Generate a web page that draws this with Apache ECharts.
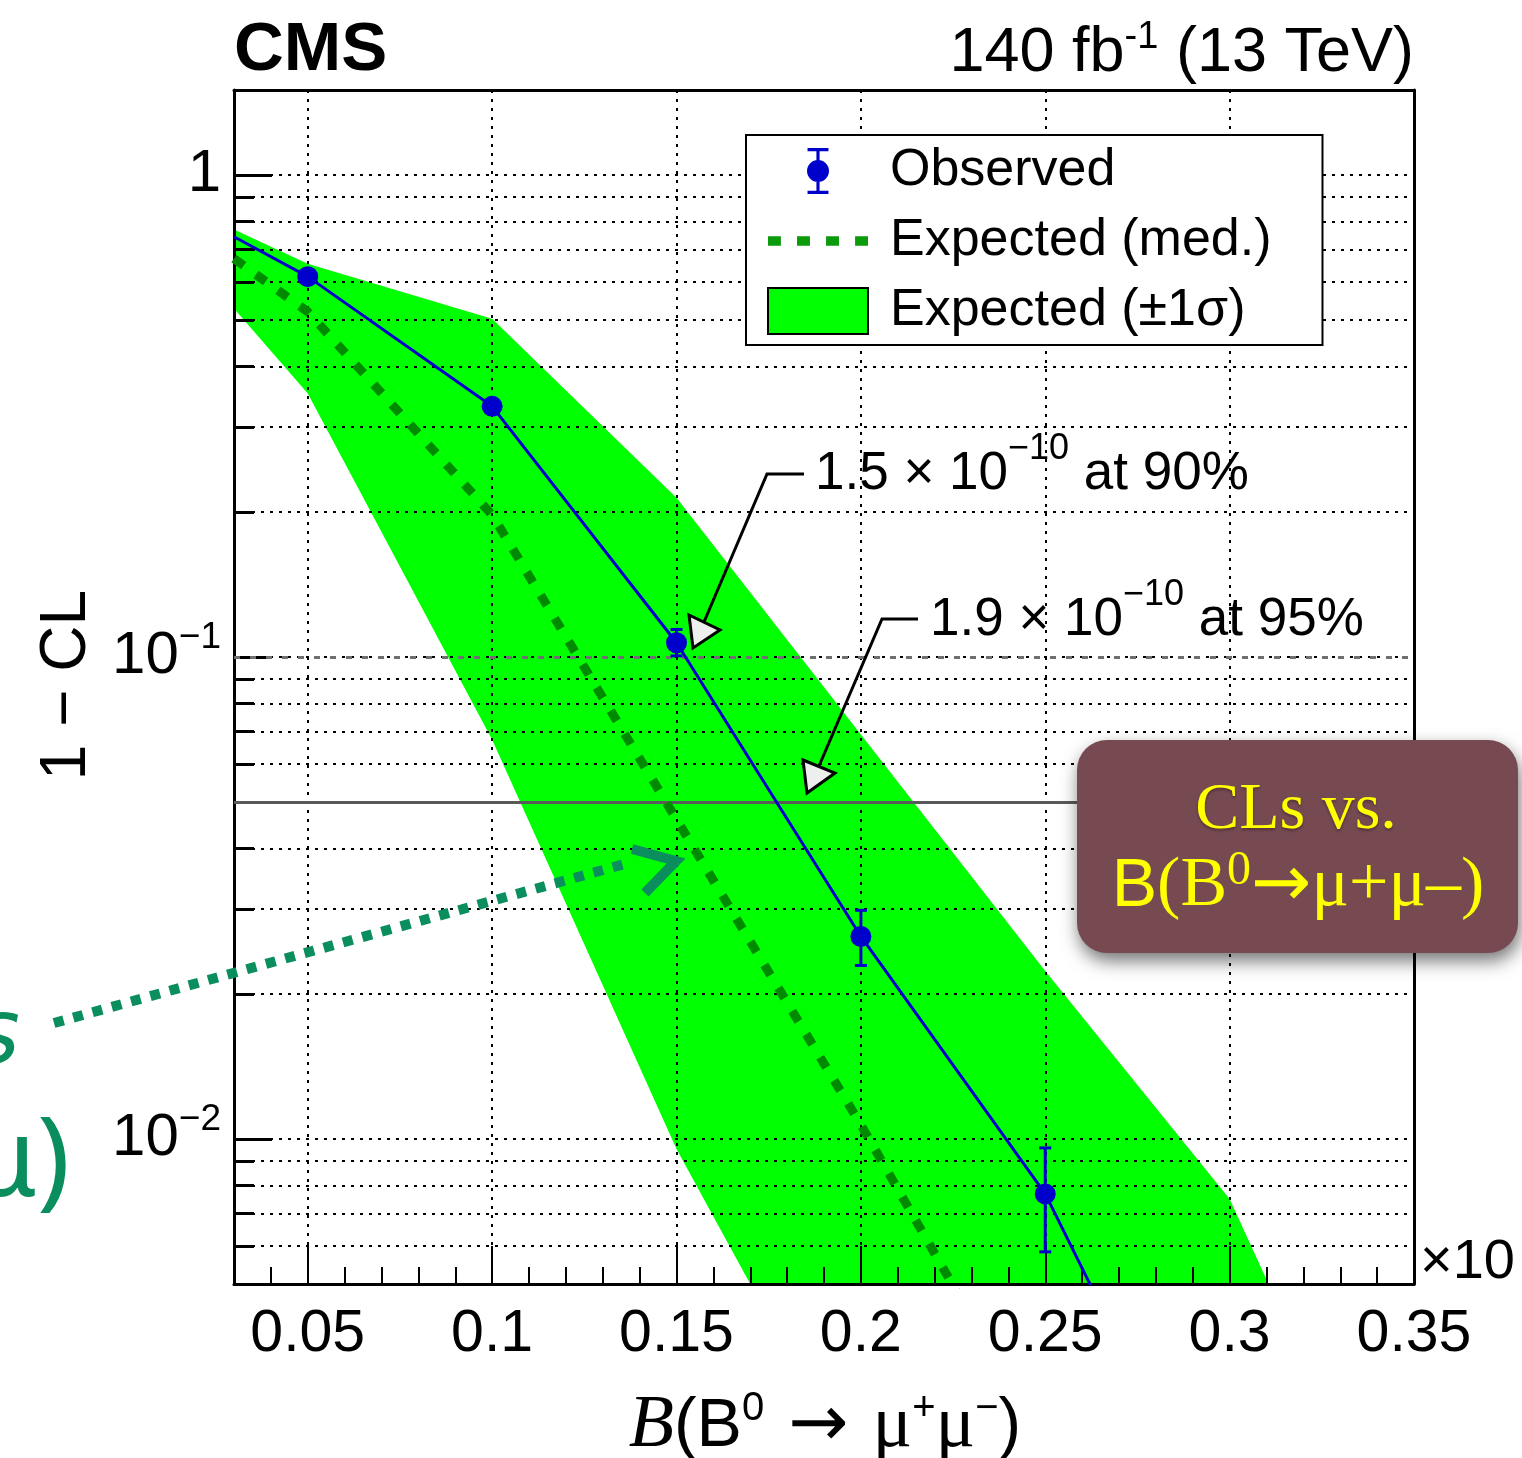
<!DOCTYPE html>
<html>
<head>
<meta charset="utf-8">
<script src="https://cdn.jsdelivr.net/npm/echarts@6/dist/echarts.min.js"></script>
<style>
  html, body { margin: 0; padding: 0; background: #fff; }
  #chart { width: 1522px; height: 1458px; }
</style>
</head>
<body>
<div id="chart"></div>
<script>
// observed 1-CL points with error bars
const obsX = [0.05, 0.1, 0.15, 0.2, 0.25];
const obsY = [0.615, 0.331, 0.107, 0.0263, 0.00769];
const errX = [0.15, 0.2, 0.25];
const errLow = [0.1005, 0.0229, 0.00583];
const errHigh = [0.114, 0.0298, 0.00958];

// observed curve (joins the points, runs to the frame)
const obsLineX = [0.03, 0.05, 0.1, 0.15, 0.2, 0.25, 0.3];
const obsLineY = [0.744, 0.615, 0.331, 0.107, 0.0263, 0.00769, 0.0013];

// expected median
const medX = [0.03, 0.05, 0.1, 0.15, 0.2, 0.25];
const medY = [0.67, 0.52, 0.197, 0.046, 0.0107, 0.0023];

// expected +-1 sigma band
const bandX = [0.03, 0.05, 0.1, 0.15, 0.2, 0.25, 0.3, 0.35];
const bandUp = [0.77, 0.654, 0.503, 0.214, 0.069, 0.0223, 0.0075, 0.0011];
const bandLow = [0.528, 0.352, 0.0673, 0.00953, 0.0019, 0.0004, 0.0001, 0.00003];

// axis ticks
const xMajorTicks = [0.05, 0.1, 0.15, 0.2, 0.25, 0.3, 0.35];
const xMajorLabels = ['0.05', '0.1', '0.15', '0.2', '0.25', '0.3', '0.35'];
const xMinorTicks = [0.03, 0.04, 0.06, 0.07, 0.08, 0.09, 0.11, 0.12, 0.13, 0.14,
  0.16, 0.17, 0.18, 0.19, 0.21, 0.22, 0.23, 0.24, 0.26, 0.27, 0.28, 0.29,
  0.31, 0.32, 0.33, 0.34];
const yMajorTicks = [0.01, 0.1, 1];
const yMajorLabels = ['{b|10}{s|−2}', '{b|10}{s|−1}', '{b|1}'];
const yMinorTicks = [0.006, 0.007, 0.008, 0.009, 0.02, 0.03, 0.04, 0.05, 0.06,
  0.07, 0.08, 0.09, 0.2, 0.3, 0.4, 0.5, 0.6, 0.7, 0.8, 0.9];

const SANS = '"Liberation Sans", Arial, Helvetica, sans-serif';
const SERIF = '"Liberation Serif", "Times New Roman", serif';
const ARROWFONT = '"DejaVu Sans", sans-serif';
const BLUE = '#0000cc';
const MEDGREEN = '#008a00';
const DOTS = { color: '#000', width: 2, type: [3, 6] };

const chart = echarts.init(document.getElementById('chart'));

function nearestIndex(arr, v) {
  let best = 0;
  arr.forEach((t, i) => {
    if (Math.abs(Math.log10(t) - Math.log10(v)) < Math.abs(Math.log10(arr[best]) - Math.log10(v))) best = i;
  });
  return best;
}

const bandData = bandX.map((x, i) => [x, bandLow[i], bandUp[i]]);

const option = {
  animation: false,
  backgroundColor: '#fff',
  grid: { left: 234, top: 90, width: 1180, height: 1194, outerBoundsMode: 'none' },
  legend: {
    left: 746,
    top: 135,
    orient: 'vertical',
    z: 10,
    selectedMode: false,
    backgroundColor: '#fff',
    borderColor: '#000',
    borderWidth: 2,
    borderRadius: 0,
    padding: [10, 51, 8, 21],
    itemWidth: 100,
    itemHeight: 46,
    itemGap: 18,
    textStyle: { fontFamily: SANS, fontSize: 52, lineHeight: 46, color: '#000', padding: [0, 0, 0, 17] },
    data: [
      {
        name: 'Observed',
        icon: 'path://M1,0 H21 V3 H12.5 V41 H21 V44 H1 V41 H9.5 V3 H1 Z M0.5,22 A10.5,10.5 0 1,1 21.5,22 A10.5,10.5 0 1,1 0.5,22 Z',
        itemStyle: { color: BLUE, opacity: 1 }
      },
      {
        name: 'Expected (med.)',
        icon: 'path://M0,0 H12 V9 H0 Z M27,0 H39 V9 H27 Z M54,0 H66 V9 H54 Z M81,0 H93 V9 H81 Z',
        itemStyle: { color: '#0a9a0a' }
      },
      { name: 'Expected (±1σ)', icon: 'rect', itemStyle: { color: '#00ff00', borderColor: '#000', borderWidth: 2 } }
    ]
  },
  xAxis: [
    {
      type: 'value', min: 0.03, max: 0.35, position: 'bottom', z: 3,
      axisLine: { show: true, onZero: false, lineStyle: { color: '#000', width: 3 } },
      axisTick: { show: true, inside: true, length: 38, customValues: xMajorTicks, lineStyle: { color: '#000', width: 2 } },
      axisLabel: {
        customValues: xMajorTicks, margin: 21, color: '#000', fontFamily: SANS, fontSize: 59, lineHeight: 59,
        formatter: v => xMajorLabels[xMajorTicks.findIndex(t => Math.abs(t - v) < 1e-6)] || ''
      },
      splitLine: { show: true, lineStyle: DOTS }
    },
    {
      type: 'value', min: 0.03, max: 0.35, position: 'bottom', z: 3,
      axisLine: { show: false },
      axisTick: { show: true, inside: true, length: 17, customValues: xMinorTicks, lineStyle: { color: '#000', width: 2 } },
      axisLabel: { show: false },
      splitLine: { show: false }
    },
    {
      type: 'value', min: 0.03, max: 0.35, position: 'top', z: 3,
      axisLine: { show: true, onZero: false, lineStyle: { color: '#000', width: 3 } },
      axisTick: { show: false }, axisLabel: { show: false }, splitLine: { show: false }
    }
  ],
  yAxis: [
    {
      type: 'log', logBase: 10, min: 0.005, max: 1.5, position: 'left', z: 3,
      axisLine: { show: true, lineStyle: { color: '#000', width: 3 } },
      axisTick: { show: true, inside: true, length: 38, customValues: yMajorTicks, lineStyle: { color: '#000', width: 3 } },
      axisLabel: {
        customValues: yMajorTicks, margin: 13, color: '#000',
        formatter: v => yMajorLabels[nearestIndex(yMajorTicks, v)],
        rich: {
          b: { fontFamily: SANS, fontSize: 60, lineHeight: 76, color: '#000' },
          s: { fontFamily: SANS, fontSize: 37, lineHeight: 40, verticalAlign: 'top', color: '#000' }
        }
      },
      splitLine: { show: true, lineStyle: DOTS },
      minorTick: { show: false }
    },
    {
      type: 'log', logBase: 10, min: 0.005, max: 1.5, position: 'left', z: 3,
      axisLine: { show: false },
      axisTick: { show: true, inside: true, length: 20, customValues: yMinorTicks, lineStyle: { color: '#000', width: 3 } },
      axisLabel: { show: false },
      splitLine: { show: true, lineStyle: DOTS }
    },
    {
      type: 'log', logBase: 10, min: 0.005, max: 1.5, position: 'right', z: 3,
      axisLine: { show: true, lineStyle: { color: '#000', width: 3 } },
      axisTick: { show: false }, axisLabel: { show: false }, splitLine: { show: false }
    }
  ],
  series: [
    {
      name: 'Expected (±1σ)',
      type: 'custom',
      z: 1,
      clip: true,
      silent: true,
      itemStyle: { color: '#00ff00' },
      encode: { x: 0, y: [1, 2] },
      data: bandData,
      renderItem: function (params, api) {
        if (params.dataIndex !== 0) return null;
        const pts = [];
        for (let i = 0; i < bandX.length; i++) pts.push(api.coord([bandX[i], bandUp[i]]));
        for (let i = bandX.length - 1; i >= 0; i--) pts.push(api.coord([bandX[i], bandLow[i]]));
        const cs = params.coordSys;
        return {
          type: 'polygon',
          shape: { points: pts },
          style: { fill: '#00ff00' },
          clipPath: { type: 'rect', shape: { x: cs.x, y: cs.y, width: cs.width, height: cs.height } }
        };
      }
    },
    {
      name: 'Expected (med.)',
      type: 'line',
      z: 5,
      symbol: 'none',
      silent: true,
      itemStyle: { color: MEDGREEN },
      lineStyle: { color: MEDGREEN, width: 9, type: [12, 15] },
      data: medX.map((x, i) => [x, medY[i]]),
      markLine: {
        silent: true,
        symbol: ['none', 'none'],
        label: { show: false },
        data: [
          { yAxis: 0.1, lineStyle: { color: '#707070', width: 3, type: [6, 10] } },
          { yAxis: 0.05, lineStyle: { color: '#5a5a5a', width: 3, type: 'solid' } }
        ]
      }
    },
    {
      name: 'obsLine',
      type: 'line',
      z: 6,
      symbol: 'none',
      silent: true,
      lineStyle: { color: BLUE, width: 3 },
      data: obsLineX.map((x, i) => [x, obsLineY[i]])
    },
    {
      name: 'obsErr',
      type: 'custom',
      z: 7,
      silent: true,
      encode: { x: 0, y: [1, 2] },
      data: errX.map((x, i) => [x, errLow[i], errHigh[i]]),
      renderItem: function (params, api) {
        const x = api.value(0);
        const lo = api.coord([x, api.value(1)]);
        const hi = api.coord([x, api.value(2)]);
        const c = 6;
        const st = { stroke: BLUE, lineWidth: 3 };
        return {
          type: 'group',
          children: [
            { type: 'line', shape: { x1: lo[0], y1: lo[1], x2: hi[0], y2: hi[1] }, style: st },
            { type: 'line', shape: { x1: lo[0] - c, y1: lo[1], x2: lo[0] + c, y2: lo[1] }, style: st },
            { type: 'line', shape: { x1: hi[0] - c, y1: hi[1], x2: hi[0] + c, y2: hi[1] }, style: st }
          ]
        };
      }
    },
    {
      name: 'Observed',
      type: 'scatter',
      z: 8,
      silent: true,
      symbol: 'circle',
      symbolSize: 21,
      itemStyle: { color: BLUE, opacity: 1 },
      data: obsX.map((x, i) => [x, obsY[i]])
    }
  ],
  graphic: [
    {
      type: 'text', z: 100, x: 234, y: 51,
      style: { text: 'CMS', font: 'bold 69px ' + SANS, fill: '#000', align: 'left', verticalAlign: 'middle' }
    },
    {
      type: 'text', z: 100, x: 1414, y: 54,
      style: {
        text: '{n|140 fb}{s|-1}{n| (13 TeV)}', align: 'right', verticalAlign: 'middle',
        rich: {
          n: { fontFamily: SANS, fontSize: 63, lineHeight: 70, fill: '#000' },
          s: { fontFamily: SANS, fontSize: 38, lineHeight: 38, verticalAlign: 'top', fill: '#000' }
        }
      }
    },
    {
      type: 'text', z: 100, x: 1420, y: 1263,
      style: { text: '×10', font: '56px ' + SANS, fill: '#000', align: 'left', verticalAlign: 'middle' }
    },
    {
      type: 'text', z: 100, x: 67, y: 685, rotation: Math.PI / 2,
      style: { text: '1 − CL', font: '64px ' + SANS, fill: '#000', align: 'center', verticalAlign: 'middle' }
    },
    {
      type: 'text', z: 100, x: 825, y: 1427,
      style: {
        text: '{i|B}{n|(B}{s|0}{a|→}{g|μ}{s|+}{g|μ}{s|−}{n|)}', align: 'center', verticalAlign: 'middle',
        rich: {
          i: { fontFamily: SERIF, fontStyle: 'italic', fontSize: 74, lineHeight: 76, fill: '#000' },
          n: { fontFamily: SANS, fontSize: 68, lineHeight: 76, fill: '#000' },
          s: { fontFamily: SANS, fontSize: 40, lineHeight: 36, verticalAlign: 'top', fill: '#000' },
          a: { fontFamily: ARROWFONT, fontSize: 72, lineHeight: 76, padding: [0, 24, 0, 24], fill: '#000' },
          g: { fontFamily: SERIF, fontSize: 74, lineHeight: 76, fill: '#000' }
        }
      }
    },
    // limit annotations
    {
      type: 'polyline', z: 100,
      shape: { points: [[804, 474], [767, 474], [704, 622]] },
      style: { stroke: '#000', lineWidth: 3, fill: null }
    },
    {
      type: 'polygon', z: 101,
      shape: { points: [[689, 615], [720, 630], [693, 648]] },
      style: { fill: '#eeeeee', stroke: '#000', lineWidth: 3 }
    },
    {
      type: 'text', z: 100, x: 815, y: 474,
      style: {
        text: '{n|1.5 × 10}{s|−10}{n| at 90%}', align: 'left', verticalAlign: 'middle',
        rich: {
          n: { fontFamily: SANS, fontSize: 53, lineHeight: 86, fill: '#000' },
          s: { fontFamily: SANS, fontSize: 36, lineHeight: 36, verticalAlign: 'top', fill: '#000' }
        }
      }
    },
    {
      type: 'polyline', z: 100,
      shape: { points: [[918, 619], [882, 619], [819, 766]] },
      style: { stroke: '#000', lineWidth: 3, fill: null }
    },
    {
      type: 'polygon', z: 101,
      shape: { points: [[803, 760], [835, 773], [807, 793]] },
      style: { fill: '#eeeeee', stroke: '#000', lineWidth: 3 }
    },
    {
      type: 'text', z: 100, x: 930, y: 620,
      style: {
        text: '{n|1.9 × 10}{s|−10}{n| at 95%}', align: 'left', verticalAlign: 'middle',
        rich: {
          n: { fontFamily: SANS, fontSize: 53, lineHeight: 86, fill: '#000' },
          s: { fontFamily: SANS, fontSize: 36, lineHeight: 36, verticalAlign: 'top', fill: '#000' }
        }
      }
    },
    // slide overlay: green hand-drawn pointer
    {
      type: 'line', z: 110,
      shape: { x1: 54, y1: 1023, x2: 628, y2: 863 },
      style: { stroke: '#0b8e5d', lineWidth: 10, lineDash: [10, 10] }
    },
    {
      type: 'polyline', z: 110,
      shape: { points: [[632, 849], [676, 861], [645, 893]] },
      style: { stroke: '#0b8e5d', lineWidth: 10, fill: null }
    },
    {
      type: 'text', z: 110, x: 20, y: 1040,
      style: { text: 's', font: 'italic 90px "DejaVu Sans"', fill: '#0b8e5d', align: 'right', verticalAlign: 'middle' }
    },
    {
      type: 'text', z: 110, x: 70, y: 1165,
      style: { text: 'μ)', font: '110px "Noto Sans"', fill: '#0b8e5d', align: 'right', verticalAlign: 'middle' }
    },
    // slide overlay: maroon label box
    {
      type: 'rect', z: 120,
      shape: { x: 1077, y: 740, width: 441, height: 213, r: 30 },
      style: { fill: '#774a52', shadowBlur: 18, shadowColor: 'rgba(0,0,0,0.55)', shadowOffsetX: 2, shadowOffsetY: 8 }
    },
    {
      type: 'text', z: 121, x: 1296, y: 811,
      style: {
        text: 'CLs vs.', font: '66px ' + SERIF, fill: '#ffff00', align: 'center', verticalAlign: 'middle',
        textShadowColor: 'rgba(0,0,0,0.35)', textShadowBlur: 3, textShadowOffsetY: 2
      }
    },
    {
      type: 'text', z: 121, x: 1298, y: 887,
      style: {
        text: '{b|B}{r|(B}{s|0}{a|→}{r|μ+μ–)}', align: 'center', verticalAlign: 'middle',
        rich: {
          b: { fontFamily: SANS, fontSize: 68, lineHeight: 80, fill: '#ffff00' },
          r: { fontFamily: SERIF, fontSize: 70, lineHeight: 80, fill: '#ffff00' },
          s: { fontFamily: SERIF, fontSize: 48, lineHeight: 68, verticalAlign: 'top', fill: '#ffff00' },
          a: { fontFamily: ARROWFONT, fontSize: 72, lineHeight: 80, fill: '#ffff00' }
        }
      }
    }
  ]
};

chart.setOption(option);
</script>
</body>
</html>
